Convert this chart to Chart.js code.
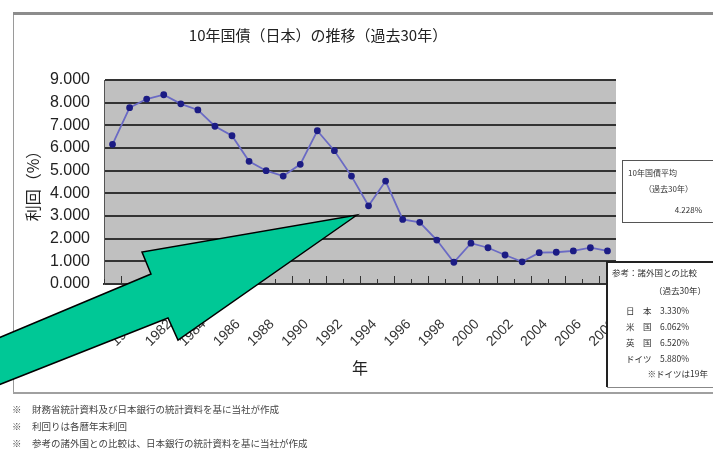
<!DOCTYPE html>
<html>
<head>
<meta charset="utf-8">
<script src="https://cdn.jsdelivr.net/npm/chart.js@4/dist/chart.umd.min.js"></script>
<style>
  html, body { margin: 0; padding: 0; background: #fff; }
  #wrap { position: relative; width: 713px; height: 453px; }
</style>
</head>
<body>
<div id="wrap"><canvas id="chart" width="713" height="453"></canvas></div>
<script>
// 10年国債利回り（暦年）1979-2008
const years = [1979, 1980, 1981, 1982, 1983, 1984, 1985, 1986, 1987, 1988,
  1989, 1990, 1991, 1992, 1993, 1994, 1995, 1996, 1997, 1998,
  1999, 2000, 2001, 2002, 2003, 2004, 2005, 2006, 2007, 2008];
const yields = [6.16, 7.78, 8.16, 8.35, 7.95, 7.68, 6.96, 6.54, 5.41, 5.00,
  4.76, 5.28, 6.76, 5.88, 4.76, 3.45, 4.54, 2.85, 2.72, 1.94,
  0.96, 1.80, 1.60, 1.28, 0.98, 1.38, 1.40, 1.46, 1.60, 1.46];
const yTicks = [0, 1, 2, 3, 4, 5, 6, 7, 8, 9];

const avgLines = ['10年国債平均', '（過去30年）', '4.228%'];
const compareTitle = ['参考：諸外国との比較', '（過去30年）'];
const compareNames = ['日　本', '米　国', '英　国', 'ドイツ'];
const compareValues = ['3.330%', '6.062%', '6.520%', '5.880%'];
const compareNote = '※ドイツは19年';
const footnotes = [
  '財務省統計資料及び日本銀行の統計資料を基に当社が作成',
  '利回りは各暦年末利回',
  '参考の諸外国との比較は、日本銀行の統計資料を基に当社が作成'
];

const jp = '"Noto Sans CJK JP", "Liberation Sans", sans-serif';

// frame behind the chart, gray plot background
const backdrop = {
  id: 'backdrop',
  beforeDraw(chart) {
    const { ctx, chartArea: a } = chart;
    ctx.save();
    ctx.strokeStyle = '#9a9a9a';
    ctx.lineWidth = 1;
    ctx.strokeRect(13.5, 13.5, 720, 380);
    ctx.fillStyle = '#8c8c8c';
    ctx.fillRect(13, 12, 700, 3);
    ctx.fillStyle = '#a0a0a0';
    ctx.fillRect(13, 392, 700, 2);
    ctx.fillStyle = '#c0c0c0';
    ctx.fillRect(a.left, a.top, a.right - a.left, a.bottom - a.top);
    ctx.restore();
  },
  // small inward tick marks on the year axis
  afterDatasetsDraw(chart) {
    const { ctx, chartArea: a } = chart;
    const x = chart.scales.x;
    const step = x.getPixelForValue(1) - x.getPixelForValue(0);
    ctx.save();
    ctx.strokeStyle = '#333';
    ctx.lineWidth = 1;
    ctx.beginPath();
    for (let i = 0; i <= years.length; i++) {
      const px = Math.round(x.getPixelForValue(i) - step / 2) + 0.5;
      const len = i % 2 === 1 ? 8 : 5;
      ctx.moveTo(px, a.bottom);
      ctx.lineTo(px, a.bottom - len);
    }
    ctx.stroke();
    ctx.restore();
  }
};

// text boxes, footnotes, green arrow
const extras = {
  id: 'extras',
  afterDraw(chart) {
    const ctx = chart.ctx;
    ctx.save();

    // average box
    ctx.fillStyle = '#fff';
    ctx.fillRect(622, 160, 95, 62);
    ctx.strokeStyle = '#555';
    ctx.lineWidth = 1;
    ctx.strokeRect(622.5, 160.5, 95, 62);
    ctx.fillStyle = '#333';
    ctx.font = '8px ' + jp;
    ctx.textBaseline = 'middle';
    ctx.textAlign = 'left';
    ctx.fillText(avgLines[0], 628, 173);
    ctx.fillText(avgLines[1], 644, 189);
    ctx.textAlign = 'right';
    ctx.fillText(avgLines[2], 702, 210);

    // comparison box
    ctx.fillStyle = '#fff';
    ctx.fillRect(606, 261, 110, 126);
    ctx.strokeStyle = '#222';
    ctx.lineWidth = 2;
    ctx.beginPath();
    ctx.moveTo(607, 387);
    ctx.lineTo(607, 262);
    ctx.lineTo(716, 262);
    ctx.stroke();
    ctx.strokeStyle = '#888';
    ctx.lineWidth = 1;
    ctx.beginPath();
    ctx.moveTo(607, 387.5);
    ctx.lineTo(716, 387.5);
    ctx.stroke();
    ctx.fillStyle = '#333';
    ctx.font = '8.5px ' + jp;
    ctx.textAlign = 'left';
    ctx.fillText(compareTitle[0], 612, 273);
    ctx.textAlign = 'right';
    ctx.fillText(compareTitle[1], 706, 291);
    compareNames.forEach((n, i) => {
      const y = 311 + i * 16;
      ctx.textAlign = 'left';
      ctx.fillText(n, 626, y);
      ctx.fillText(compareValues[i], 660, y);
    });
    ctx.textAlign = 'right';
    ctx.fillText(compareNote, 708, 374);

    // footnotes
    ctx.font = '9.5px ' + jp;
    ctx.textAlign = 'left';
    ctx.fillStyle = '#444';
    footnotes.forEach((t, i) => {
      const y = 409 + i * 17;
      ctx.fillText('※', 12, y);
      ctx.fillText(t, 32, y);
    });

    // green arrow
    ctx.beginPath();
    ctx.moveTo(357, 215);
    ctx.lineTo(178, 340);
    ctx.lineTo(168, 318);
    ctx.lineTo(-4, 386);
    ctx.lineTo(-4, 339);
    ctx.lineTo(151, 274);
    ctx.lineTo(142, 252);
    ctx.closePath();
    ctx.fillStyle = '#00c896';
    ctx.fill();
    ctx.strokeStyle = '#000';
    ctx.lineWidth = 1.5;
    ctx.stroke();

    ctx.restore();
  }
};

new Chart(document.getElementById('chart'), {
  type: 'line',
  data: {
    labels: years.map(String),
    datasets: [{
      data: yields,
      borderColor: '#6a6ac4',
      borderWidth: 1.8,
      pointBackgroundColor: '#1c1c84',
      pointBorderColor: '#1c1c84',
      pointRadius: 2.5,
      tension: 0
    }]
  },
  options: {
    responsive: false,
    animation: false,
    layout: { padding: { left: 20, right: 97, top: 0, bottom: 0 } },
    plugins: {
      legend: { display: false },
      tooltip: { enabled: false },
      title: {
        display: true,
        text: '10年国債（日本）の推移（過去30年）',
        color: '#222',
        font: { family: jp, size: 15, weight: 'normal' },
        padding: { top: 26, bottom: 36 }
      }
    },
    scales: {
      x: {
        offset: true,
        afterFit(scale) { scale.height = 169; },
        grid: { display: false },
        border: { display: true, color: '#333', width: 2 },
        ticks: {
          autoSkip: false,
          maxRotation: 45,
          minRotation: 45,
          padding: 24,
          labelOffset: 6,
          color: '#333',
          font: { family: '"Liberation Sans", Arial, sans-serif', size: 14 },
          callback(v, i) { return years[i] % 2 === 0 ? String(years[i]) : ''; }
        },
        title: {
          display: true,
          text: '年',
          color: '#222',
          font: { family: jp, size: 16 },
          padding: { top: 0, bottom: 75 }
        }
      },
      y: {
        min: 0,
        max: 9,
        afterFit(scale) { scale.width = 84; },
        afterBuildTicks(scale) { scale.ticks = yTicks.map(v => ({ value: v })); },
        grid: { color: '#333', lineWidth: 2, drawTicks: false },
        border: { display: true, color: '#555', width: 1 },
        ticks: {
          padding: 14,
          color: '#222',
          font: { family: '"Liberation Sans", Arial, sans-serif', size: 16 },
          callback(v) { return v.toFixed(3); }
        },
        title: {
          display: true,
          text: '利回（%）',
          color: '#222',
          font: { family: jp, size: 16 },
          padding: { top: 3, bottom: 0 }
        }
      }
    }
  },
  plugins: [backdrop, extras]
});
</script>
</body>
</html>
